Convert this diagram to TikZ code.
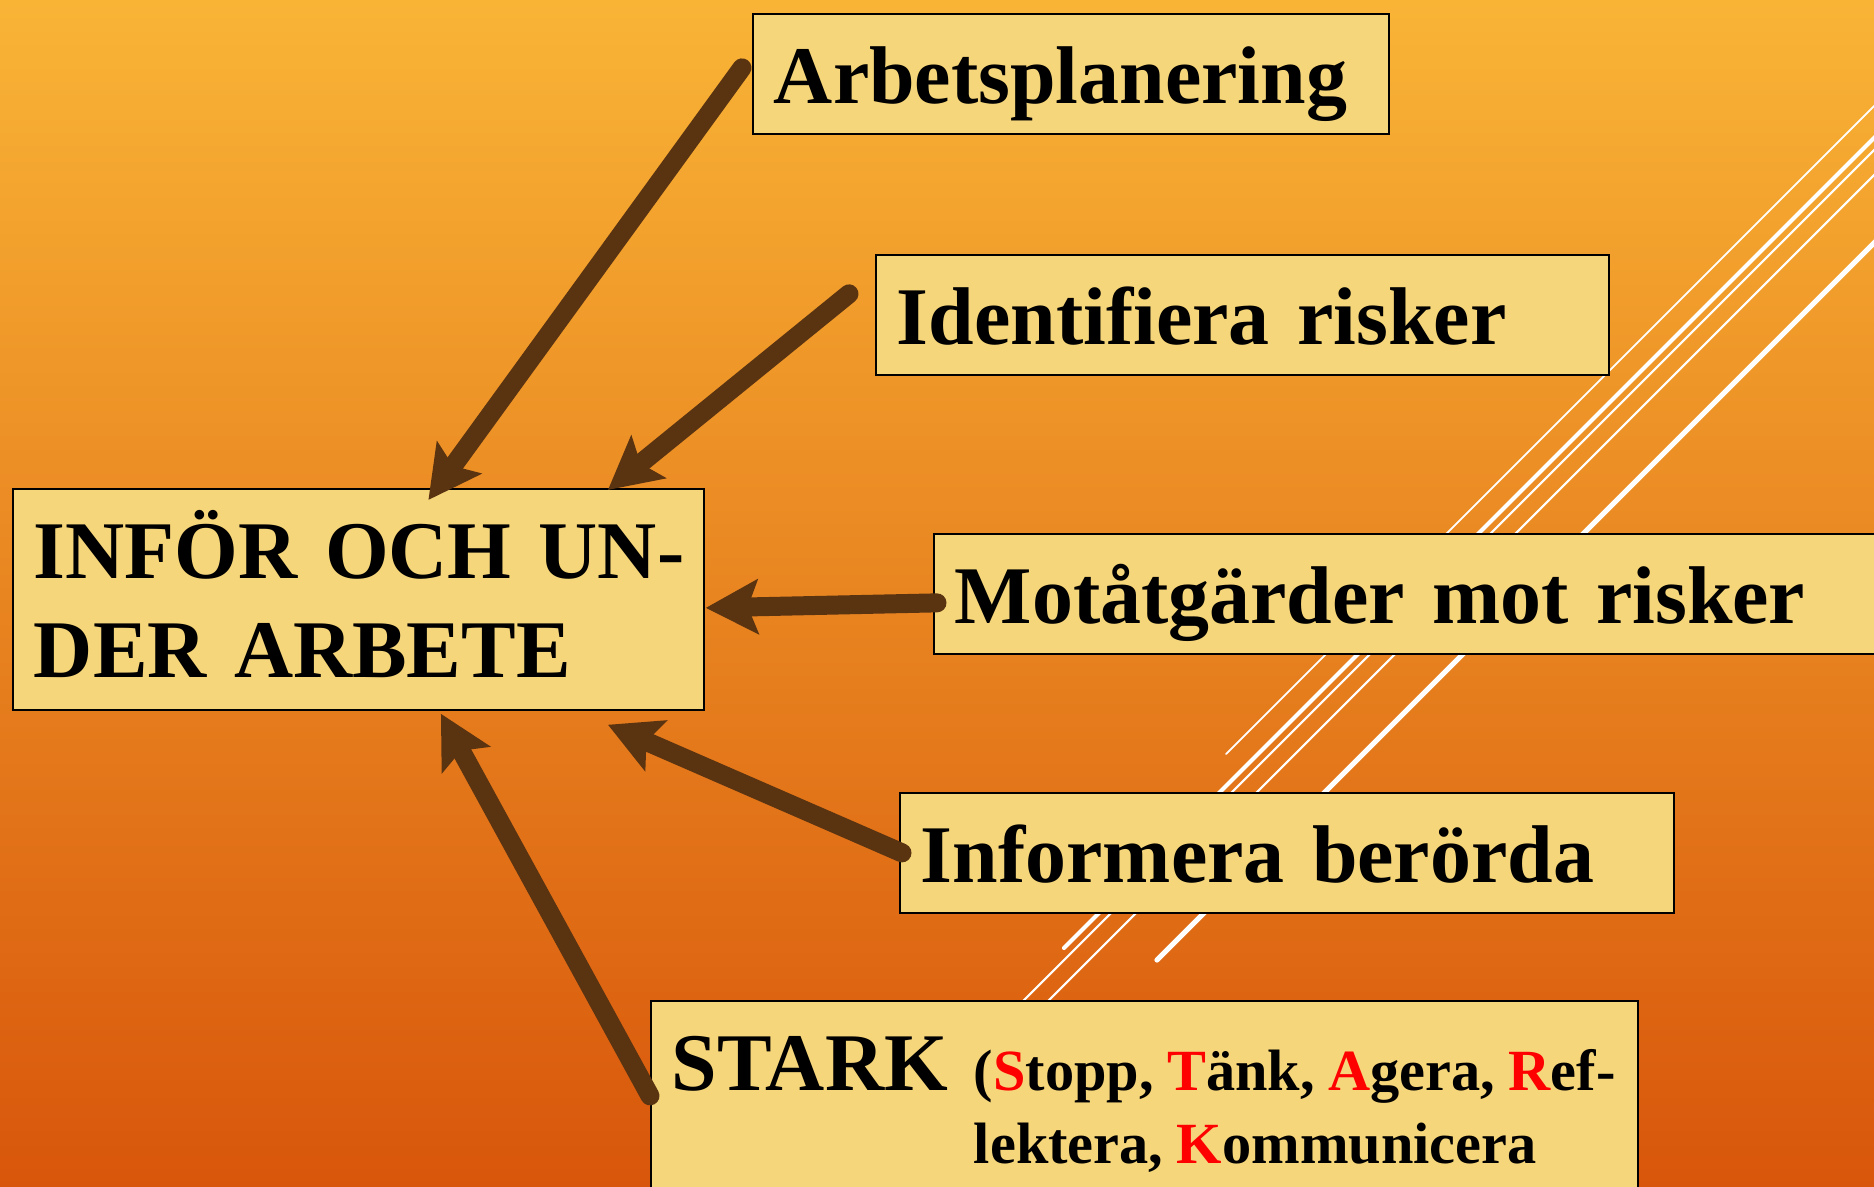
\documentclass[tikz,border=0pt]{standalone}
\usepackage{fontspec}
\setmainfont{Liberation Serif}
\usepackage{tikz}
\usetikzlibrary{arrows.meta}
\definecolor{bgtop}{RGB}{249,180,54}
\definecolor{bgbottom}{RGB}{216,86,11}
\definecolor{boxfill}{RGB}{246,214,122}
\definecolor{arrowbrown}{RGB}{90,51,17}
\newcommand{\topicfont}{\fontsize{23.3pt}{28pt}\selectfont\bfseries\spaceskip=0.16em\relax}
\tikzstyle{topic} = [rectangle, anchor=north west, draw=black, line width=0.5pt, fill=boxfill, inner xsep=0.21cm, inner ysep=0pt, text height=0.9cm, text depth=0.3cm, align=left, font=\topicfont]
\tikzstyle{arrow} = [line width=0.19cm, line cap=round, draw=arrowbrown, -{Stealth[length=0.52cm,width=0.54cm,inset=0.1cm]}]
\tikzstyle{streak} = [draw=white, line cap=round]
\newcommand{\redletter}[1]{\textcolor{red}{#1}}

\begin{document}
\begin{tikzpicture}
    \useasboundingbox (0,0) rectangle (18.74,11.87);
    \shade [top color=bgtop, bottom color=bgbottom] (0,0) rectangle (18.74,11.87);

    \draw [streak, line width=0.5pt] (19.2,11.27) -- (12.26,4.33);
    \draw [streak, line width=1.2pt] (19.2,10.95) -- (10.64,2.39);
    \draw [streak, line width=0.6pt] (19.2,10.83) -- (9.87,1.5);
    \draw [streak, line width=0.6pt] (19.2,10.58) -- (10.12,1.5);
    \draw [streak, line width=1.5pt] (19.2,9.90) -- (11.57,2.27);

    \node (plan) [topic, text width=5.94cm] at (7.52,11.74) {Arbetsplanering};
    \node (risk) [topic, text width=6.91cm] at (8.75,9.33) {Identifiera risker};
    \node (counter) [topic, text width=9.58cm] at (9.33,6.54) {Motåtgärder mot risker};
    \node (inform) [topic, text width=7.32cm] at (8.99,3.95) {Informera berörda};
    \node (work) [topic, text width=6.49cm, text depth=1.31cm] at (0.12,6.99) {\mbox{INFÖR OCH UN-}\\DER ARBETE};
    \node (stark) [topic, text width=9.45cm, text depth=1.5cm] at (6.50,1.87)
    {\mbox{STARK\hspace{0.26cm}{\fontsize{16.6pt}{20.8pt}\selectfont\spaceskip=0.23em\relax
        \begin{tabular}[t]{@{}l@{}}
            (\redletter{S}topp, \redletter{T}änk, \redletter{A}gera, \redletter{R}ef-\\
            lektera, \redletter{K}ommunicera
        \end{tabular}}}};

    \draw [arrow] ([xshift=-0.1cm, yshift=0.06cm]plan.west) -- ([shift={(0.7,-0.12)}]work.north);
    \draw [arrow] ([xshift=-0.26cm, yshift=0.21cm]risk.west) -- ([shift={(2.495,-0.02)}]work.north);
    \draw [arrow] ([xshift=0.04cm, yshift=-0.09cm]counter.west) -- ([shift={(0.01,-0.085)}]work.east);
    \draw [arrow] ([xshift=0.03cm]inform.west) -- ([shift={(2.495,-0.14)}]work.south);
    \draw [arrow] ([yshift=0.25cm]stark.west) -- ([shift={(0.825,-0.03)}]work.south);
\end{tikzpicture}
\end{document}
